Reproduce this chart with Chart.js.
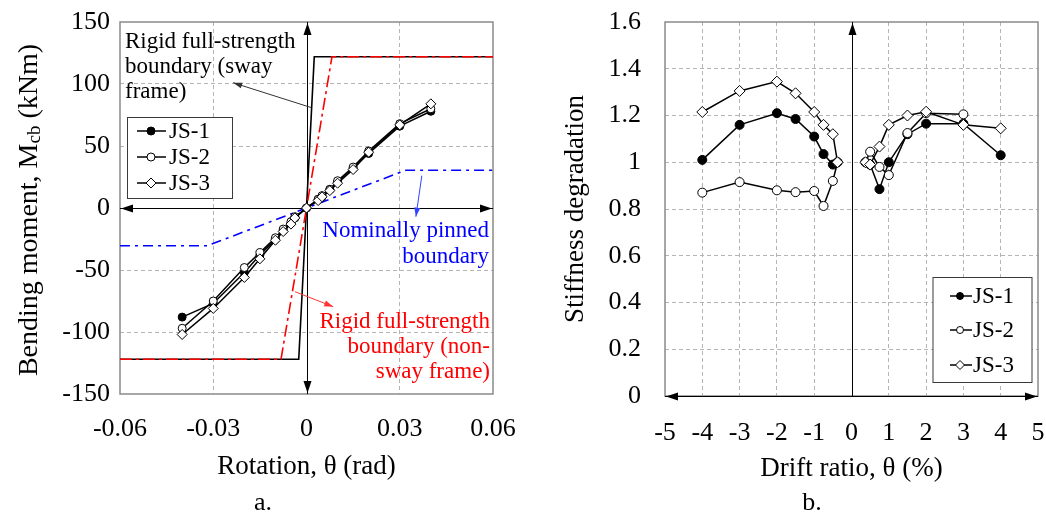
<!DOCTYPE html>
<html>
<head>
<meta charset="utf-8">
<script src="https://cdn.jsdelivr.net/npm/chart.js@4.4.1/dist/chart.umd.min.js"></script>
<style>
body{margin:0;background:#fff;width:1046px;height:518px;overflow:hidden;position:relative}
canvas{position:absolute;top:0}
#moment{left:0}
#stiff{left:520px}
</style>
</head>
<body>
<canvas id="moment" width="520" height="518"></canvas>
<canvas id="stiff" width="526" height="518"></canvas>
<script>
// a. moment-rotation
const rotation = [-0.04, -0.03, -0.02, -0.015, -0.01, -0.0075, -0.005, -0.00375, 0, 0.00375, 0.005, 0.0075, 0.01, 0.015, 0.02, 0.03, 0.04]
const momentJS1 = [-88, -77, -52, -38, -25, -18, -12, -8, 0, 7, 9, 15, 21, 32, 44, 66, 78]
const momentJS2 = [-97, -75, -48, -36, -24, -17, -11, -7, 0, 7, 10, 15, 22, 33, 46, 68, 80]
const momentJS3 = [-102, -81, -56, -41, -26, -19, -13, -8, 0, 6, 9, 14, 20, 31, 45, 67, 84]
const swayX = [-0.06, -0.0025, 0.0025, 0.06]
const nonSwayX = [-0.06, -0.0082, 0.0082, 0.06]
const rigidM = [-122, -122, 122, 122]
const pinnedX = [-0.06, -0.032, 0.032, 0.06]
const pinnedM = [-30.5, -30.5, 30.5, 30.5]

// b. stiffness degradation
const driftNeg = [-4, -3, -2, -1.5, -1, -0.75, -0.5, -0.375]
const driftPos = [0.375, 0.5, 0.75, 1, 1.5, 2, 3, 4]
const stiffJS1neg = [1.01, 1.16, 1.21, 1.185, 1.11, 1.035, 0.99, 1.0]
const stiffJS1pos = [1.0, 0.99, 0.885, 1.0, 1.12, 1.165, 1.165, 1.03]
const stiffJS2neg = [0.87, 0.915, 0.88, 0.872, 0.877, 0.813, 0.92, 1.0]
const stiffJS2pos = [1.0, 1.045, 0.98, 0.945, 1.125, 1.21, 1.205, null]
const stiffJS3neg = [1.215, 1.305, 1.345, 1.295, 1.215, 1.16, 1.12, 1.0]
const stiffJS3pos = [1.0, 0.99, 1.067, 1.16, 1.2, 1.216, 1.16, 1.145]

const specimens = ['JS-1', 'JS-2', 'JS-3']
const serif = '"Liberation Serif", "Times New Roman", serif'
const tickFont = {family: serif, size: 26}
const titleFont = {family: serif, size: 27}
const gridColor = '#b4b4b4'

const pts = (xs, ys) => xs.map((x, i) => ({x: x, y: ys[i]})).filter(p => p.y !== null)
const gap = (a, b) => a.concat([{x: 0, y: null}], b)

const markerStyle = [
    {pointStyle: 'circle', fill: '#000'},
    {pointStyle: 'circle', fill: '#fff'},
    {pointStyle: 'rectRot', fill: '#fff'}
]

function jsSet(i, data, r, order) {
    const m = markerStyle[i]
    return {
        label: specimens[i], data: data, order: order,
        showLine: true, borderColor: '#000', borderWidth: 1.5,
        pointStyle: m.pointStyle, pointRadius: m.pointStyle == 'rectRot' ? r + 1 : r,
        pointBackgroundColor: m.fill, pointBorderColor: '#000', pointBorderWidth: 1
    }
}
function boundSet(label, xs, ys, color, dash, order) {
    return {
        label: label, data: pts(xs, ys), order: order, showLine: true,
        borderColor: color, borderWidth: 1.6, borderDash: dash, pointRadius: 0
    }
}

function arrowHead(ctx, x, y, ang, len, half) {
    const c = Math.cos(ang), s = Math.sin(ang)
    ctx.beginPath()
    ctx.moveTo(x, y)
    ctx.lineTo(x - len*c + half*s, y - len*s - half*c)
    ctx.lineTo(x - len*c - half*s, y - len*s + half*c)
    ctx.closePath()
    ctx.fill()
}
function arrow(ctx, x1, y1, x2, y2, color) {
    ctx.strokeStyle = color
    ctx.fillStyle = color
    ctx.lineWidth = 1
    ctx.beginPath(); ctx.moveTo(x1, y1); ctx.lineTo(x2, y2); ctx.stroke()
    arrowHead(ctx, x2, y2, Math.atan2(y2 - y1, x2 - x1), 9, 3)
}
function marker(ctx, style, x, y, r, fill) {
    ctx.beginPath()
    if (style == 'rectRot') {
        ctx.moveTo(x, y - r); ctx.lineTo(x + r, y); ctx.lineTo(x, y + r); ctx.lineTo(x - r, y); ctx.closePath()
    } else {
        ctx.arc(x, y, r, 0, Math.PI*2)
    }
    ctx.fillStyle = fill
    ctx.fill()
    ctx.strokeStyle = '#000'
    ctx.lineWidth = 1
    ctx.stroke()
}

function fixArea(w, h) {
    return s => {
        if (s.isHorizontal()) s.height = h
        else s.width = w
        s.paddingLeft = 0; s.paddingRight = 0; s.paddingTop = 0; s.paddingBottom = 0
    }
}

const near = (a, b) => Math.abs(a - b) < 1e-9
function gridFor(edges) {
    return ctx => {
        if (!ctx.tick) return 'transparent'
        const v = ctx.tick.value
        return edges.some(e => near(v, e)) ? 'transparent' : gridColor
    }
}

// frame, axes through zero, legend, captions
const framePlugin = {
    id: 'frame',
    beforeDatasetsDraw(chart, args, o) {
        const {ctx, chartArea: a, scales: {x, y}} = chart
        ctx.save()
        ctx.strokeStyle = '#8a8a8a'
        ctx.lineWidth = 1.5
        ctx.strokeRect(a.left, a.top, a.width, a.height)
        ctx.strokeStyle = '#000'
        ctx.fillStyle = '#000'
        ctx.lineWidth = 1
        const x0 = Math.round(x.getPixelForValue(0)) + 0.5
        const y0 = Math.round(y.getPixelForValue(0)) + 0.5
        ctx.beginPath(); ctx.moveTo(a.left, y0); ctx.lineTo(a.right, y0); ctx.stroke()
        arrowHead(ctx, a.left + 1, y0, Math.PI, 12, 4)
        arrowHead(ctx, a.right - 1, y0, 0, 12, 4)
        ctx.beginPath(); ctx.moveTo(x0, a.top); ctx.lineTo(x0, a.bottom); ctx.stroke()
        arrowHead(ctx, x0, a.top + 1, -Math.PI/2, 12, 4)
        if (o.bothY) arrowHead(ctx, x0, a.bottom - 1, Math.PI/2, 12, 4)
        ctx.restore()
    },
    afterDraw(chart, args, o) {
        const ctx = chart.ctx
        ctx.save()
        const L = o.legend
        ctx.fillStyle = '#fff'
        ctx.fillRect(L.x, L.y, L.w, L.h)
        ctx.strokeStyle = '#3a3a3a'
        ctx.lineWidth = 1
        ctx.strokeRect(L.x, L.y, L.w, L.h)
        ctx.font = L.size + 'px ' + serif
        ctx.textBaseline = 'middle'
        ctx.textAlign = 'left'
        specimens.forEach((name, i) => {
            const ry = L.rows[i]
            ctx.strokeStyle = '#000'
            ctx.lineWidth = 1.5
            ctx.beginPath(); ctx.moveTo(L.line[0], ry); ctx.lineTo(L.line[1], ry); ctx.stroke()
            const m = markerStyle[i]
            marker(ctx, m.pointStyle, L.mark, ry, m.pointStyle == 'rectRot' ? L.r + 1 : L.r, m.fill)
            ctx.fillStyle = '#000'
            ctx.fillText(name, L.text, ry + 1)
        })
        ctx.font = '26px ' + serif
        ctx.textAlign = 'center'
        ctx.fillStyle = '#000'
        ctx.fillText(o.caption[0], o.caption[1], o.caption[2])
        if (o.extra) o.extra(chart)
        ctx.restore()
    }
}

function momentNotes(chart) {
    const {ctx, chartArea: a, scales: {x, y}} = chart
    const px = v => x.getPixelForValue(v), py = v => y.getPixelForValue(v)
    ctx.font = '23px ' + serif
    ctx.textBaseline = 'middle'
    ctx.textAlign = 'left'
    ctx.fillStyle = '#000'
    ;['Rigid full-strength', 'boundary (sway', 'frame)'].forEach((t, i) => ctx.fillText(t, a.left + 5, 42 + i*25))
    arrow(ctx, px(0.0015), py(81), px(-0.0236), py(101), '#333')
    ctx.textAlign = 'right'
    ctx.fillStyle = '#0000ff'
    ;['Nominally pinned', 'boundary'].forEach((t, i) => ctx.fillText(t, a.right - 4, 231 + i*26))
    arrow(ctx, px(0.0371), py(26), px(0.0352), py(-7), '#3344ff')
    ctx.fillStyle = '#ff0000'
    ;['Rigid full-strength', 'boundary (non-', 'sway frame)'].forEach((t, i) => ctx.fillText(t, a.right - 3, 322 + i*25))
    arrow(ctx, px(-0.0037), py(-67.5), px(0.0086), py(-79.6), '#ff3333')
}

function momentYTitle(chart) {
    const ctx = chart.ctx
    const parts = [['Bending moment, M', 28, 0], ['cb', 19, 3], [' (kNm)', 28, 0]]
    let total = 0
    parts.forEach(p => { ctx.font = p[1] + 'px ' + serif; total += ctx.measureText(p[0]).width })
    ctx.save()
    ctx.translate(27, 210)
    ctx.rotate(-Math.PI/2)
    ctx.textAlign = 'left'
    ctx.textBaseline = 'alphabetic'
    ctx.fillStyle = '#000'
    let cx = -total/2
    parts.forEach(p => {
        ctx.font = p[1] + 'px ' + serif
        ctx.fillText(p[0], cx, 10 + p[2])
        cx += ctx.measureText(p[0]).width
    })
    ctx.restore()
}

new Chart(document.getElementById('moment'), {
    type: 'scatter',
    data: {
        datasets: [
            jsSet(0, pts(rotation, momentJS1), 4, 2),
            jsSet(1, pts(rotation, momentJS2), 4, 1),
            jsSet(2, pts(rotation, momentJS3), 4, 0),
            boundSet('Rigid full-strength (sway)', swayX, rigidM, '#000', [], 4),
            boundSet('Rigid full-strength (non-sway)', nonSwayX, rigidM, '#ff0000', [12, 4, 3, 4], 3),
            boundSet('Nominally pinned', pinnedX, pinnedM, '#0000ff', [10, 5, 3, 5], 3)
        ]
    },
    options: {
        responsive: false,
        animation: false,
        layout: {padding: {top: 22, right: 27, left: 0, bottom: 0}},
        plugins: {
            legend: {display: false},
            tooltip: {enabled: false},
            frame: {
                bothY: true,
                legend: {x: 127.5, y: 117.5, w: 105, h: 81, rows: [131, 157, 183], line: [137, 166], mark: 151, text: 169, r: 4, size: 23},
                caption: ['a.', 263, 503],
                extra: c => { momentNotes(c); momentYTitle(c) }
            }
        },
        scales: {
            x: {
                type: 'linear', min: -0.06, max: 0.06,
                afterFit: fixArea(120, 124),
                ticks: {stepSize: 0.03, font: tickFont, color: '#000', padding: 20, maxRotation: 0,
                    callback: v => String(Math.round(v*100)/100)},
                grid: {color: gridFor([-0.06, 0, 0.06]), drawTicks: false, lineWidth: 1},
                border: {display: false, dash: [4, 3]},
                title: {display: true, text: 'Rotation, θ (rad)', font: titleFont, color: '#000', padding: {top: 0, bottom: 35}}
            },
            y: {
                type: 'linear', min: -150, max: 150,
                afterFit: fixArea(120, 124),
                ticks: {stepSize: 50, font: tickFont, color: '#000', padding: 10},
                grid: {color: gridFor([-150, 0, 150]), drawTicks: false, lineWidth: 1},
                border: {display: false, dash: [4, 3]}
            }
        }
    },
    plugins: [framePlugin]
})

new Chart(document.getElementById('stiff'), {
    type: 'scatter',
    data: {
        datasets: [
            jsSet(0, gap(pts(driftNeg, stiffJS1neg), pts(driftPos, stiffJS1pos)), 4.5, 2),
            jsSet(1, gap(pts(driftNeg, stiffJS2neg), pts(driftPos, stiffJS2pos)), 4.5, 1),
            jsSet(2, gap(pts(driftNeg, stiffJS3neg), pts(driftPos, stiffJS3pos)), 4.5, 0)
        ]
    },
    options: {
        responsive: false,
        animation: false,
        spanGaps: false,
        layout: {padding: {top: 22, right: 8, left: 0, bottom: 0}},
        plugins: {
            legend: {display: false},
            tooltip: {enabled: false},
            frame: {
                bothY: false,
                legend: {x: 413, y: 277.5, w: 99, h: 105, rows: [296, 330, 365], line: [430, 452], mark: 440, text: 453, r: 3.5, size: 23},
                caption: ['b.', 292, 503]
            }
        },
        scales: {
            x: {
                type: 'linear', min: -5, max: 5,
                afterFit: fixArea(145, 122),
                ticks: {stepSize: 1, font: tickFont, color: '#000', padding: 22, maxRotation: 0},
                grid: {color: gridFor([-5, 0, 5]), drawTicks: false, lineWidth: 1},
                border: {display: false, dash: [4, 3]},
                title: {display: true, text: 'Drift ratio, θ (%)', font: titleFont, color: '#000', padding: {top: 0, bottom: 33}}
            },
            y: {
                type: 'linear', min: 0, max: 1.6,
                afterFit: fixArea(145, 122),
                ticks: {stepSize: 0.2, font: tickFont, color: '#000', padding: 24,
                    callback: v => String(Math.round(v*10)/10)},
                grid: {color: gridFor([0, 1.6]), drawTicks: false, lineWidth: 1},
                border: {display: false, dash: [4, 3]},
                title: {display: true, text: 'Stiffness degradation', font: titleFont, color: '#000', padding: {top: 40, bottom: 0}}
            }
        }
    },
    plugins: [framePlugin]
})
</script>
</body>
</html>
